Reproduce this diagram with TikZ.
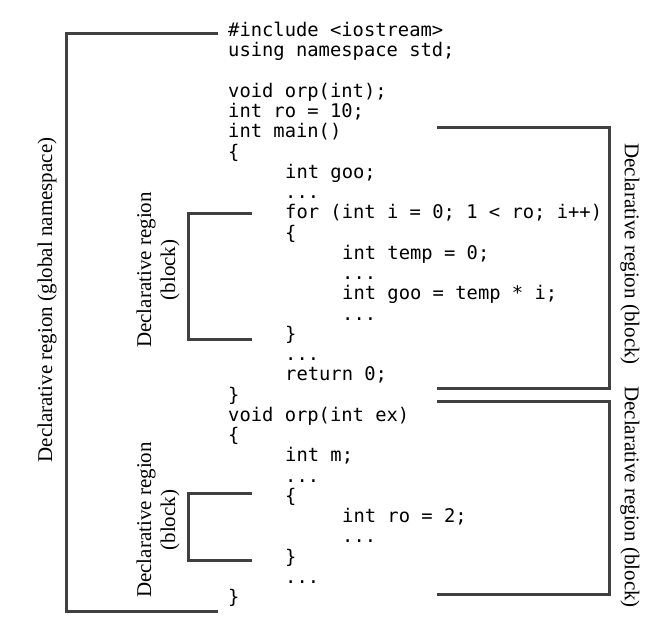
\documentclass[tikz,border=0pt]{standalone}
\usepackage{fontspec}
\setmainfont{Liberation Serif}
\newfontfamily\codefont{DejaVu Sans Mono}
\definecolor{brk}{HTML}{404040}
\begin{document}
\begin{tikzpicture}[x=1pt,y=-1pt,
  code/.style={anchor=base west, inner sep=0pt, font=\codefont\fontsize{18.8}{20}\selectfont},
  brk/.style={line width=3pt, draw=brk},
  lbl/.style={font=\fontsize{21}{24}\selectfont, align=center, inner sep=0pt}]
\useasboundingbox (0,0) rectangle (666,630);
% code lines
\node[code] (l0)  at (228,36.5)   {\#include <iostream>};
\node[code] (l1)  at (228,56.75)  {using namespace std;};
\node[code] (l3)  at (228,97.25)  {void orp(int);};
\node[code] (l4)  at (228,117.5)  {int ro = 10;};
\node[code] (l5)  at (228,137.75) {int main()};
\node[code] (l6)  at (228,158)    {\{};
\node[code] (l7)  at (285,178.25) {int goo;};
\node[code] (l8)  at (285,198.5)  {...};
\node[code] (l9)  at (285,218.75) {for (int i = 0; 1 < ro; i++)};
\node[code] (l10) at (285,239)    {\{};
\node[code] (l11) at (342,259.25) {int temp = 0;};
\node[code] (l12) at (342,279.5)  {...};
\node[code] (l13) at (342,299.75) {int goo = temp * i;};
\node[code] (l14) at (342,320)    {...};
\node[code] (l15) at (285,340.25) {\}};
\node[code] (l16) at (285,360.5)  {...};
\node[code] (l17) at (285,380.75) {return 0;};
\node[code] (l18) at (228,401)    {\}};
\node[code] (l19) at (228,421.25) {void orp(int ex)};
\node[code] (l20) at (228,441.5)  {\{};
\node[code] (l21) at (285,461.75) {int m;};
\node[code] (l22) at (285,482)    {...};
\node[code] (l23) at (285,502.25) {\{};
\node[code] (l24) at (342,522.5)  {int ro = 2;};
\node[code] (l25) at (342,542.75) {...};
\node[code] (l26) at (285,563)    {\}};
\node[code] (l27) at (285,583.25) {...};
\node[code] (l28) at (228,603.5)  {\}};
% brackets
\draw[brk] (218,33) -- (66,33) -- (66,611) -- (218,611);
\draw[brk] (252,213) -- (188,213) -- (188,339) -- (252,339);
\draw[brk] (252,493) -- (188,493) -- (188,560) -- (252,560);
\draw[brk] (437,127) -- (609,127) -- (609,388) -- (437,388);
\draw[brk] (437,401) -- (609,401) -- (609,594) -- (437,594);
% labels
\node[lbl, rotate=90] (g) at (47,300) {Declarative region (global namespace)};
\node[lbl, rotate=90] (b1) at (158,270) {Declarative region\\(block)};
\node[lbl, rotate=90] (b2) at (158,520) {Declarative region\\(block)};
\node[lbl, rotate=-90] (b3) at (630,254) {Declarative region (block)};
\node[lbl, rotate=-90] (b4) at (630,497) {Declarative region (block)};
\end{tikzpicture}
\end{document}
